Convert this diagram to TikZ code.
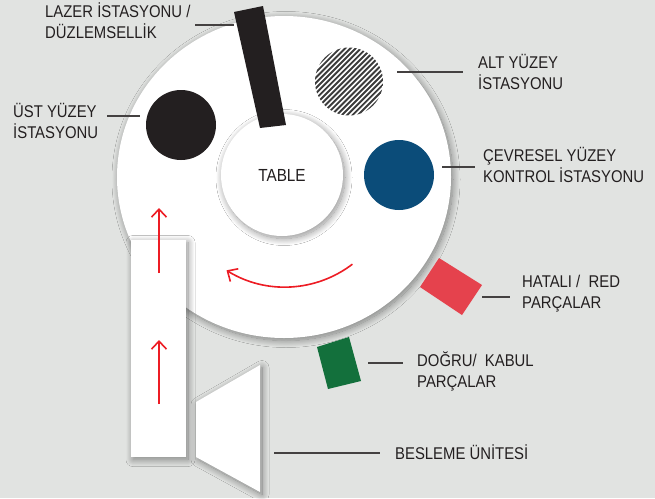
\documentclass[tikz,border=0pt]{standalone}
\usepackage{fontspec}
\setmainfont[FakeStretch=0.875]{Liberation Sans}
\usetikzlibrary{arrows.meta,shadows.blur}
\definecolor{bg}{RGB}{225,227,225}
\definecolor{ink}{RGB}{35,31,32}
\definecolor{hatchgray}{RGB}{60,60,60}
\definecolor{stationblue}{RGB}{11,76,121}
\definecolor{rejectred}{RGB}{229,66,77}
\definecolor{acceptgreen}{RGB}{19,112,60}
\definecolor{flowred}{RGB}{237,28,36}
\begin{document}
\begin{tikzpicture}[x=1pt,y=-1pt,
  lbl/.style={inner sep=0pt, anchor=base west, text=ink, font=\fontsize{17}{21}\selectfont},
  leader/.style={draw=ink!85, line width=1.1pt},
  flow/.style={draw=flowred, line width=1.6pt, -{Straight Barb[length=8pt,width=15pt]}},
  softshadow/.style={blur shadow={shadow xshift=2pt, shadow yshift=-2.5pt, shadow blur radius=7pt, shadow blur steps=20, shadow opacity=45}},
  station/.style={circle, inner sep=0pt, minimum size=70pt}
]
\useasboundingbox (0,0) rectangle (655,498);
\fill[bg] (0,0) rectangle (655,498);

% turntable
\fill[white, softshadow] (284,177) ellipse [x radius=167, y radius=161];

% stations
\node[station, minimum size=68pt, fill=white] (alt) at (349,81.5) {};
\begin{scope}
  \clip (349,81.5) circle [radius=34];
  \foreach \k in {-11,...,11}
    \draw[draw=hatchgray, line width=1.9pt] ({349+\k*2.65+40},{81.5+\k*2.65-40}) -- ({349+\k*2.65-40},{81.5+\k*2.65+40});
\end{scope}
\node[station, fill=ink] (ust) at (181,125) {};
\node[station, fill=stationblue] (cevre) at (399,175) {};

% table
\node[circle, fill=white, minimum size=122pt, inner sep=0pt, softshadow, text=ink,
  font=\fontsize{17.5}{20}\selectfont] (table) at (282,175) {TABLE};

% conveyor and feeder
\fill[white, softshadow] (131,240) rectangle (186,457);
\fill[white, softshadow] (196,402) -- (260,365) -- (260,492) -- (196,457) -- cycle;

% flow arrows
\coordinate (f1s) at (159,273); \coordinate (f1e) at (159,208);
\coordinate (f2s) at (159,404); \coordinate (f2e) at (159,340);
\draw[flow] (f1s) -- (f1e);
\draw[flow] (f2s) -- (f2e);
\draw[flow] (285,176) ++(52.6:111) arc[start angle=52.6, end angle=121.8, radius=111];

% output bins
\fill[rejectred] (420,287) -- (439,258) -- (482,285) -- (462,315) -- cycle;
\fill[acceptgreen] (317,347) -- (349,337) -- (361,381) -- (328,389) -- cycle;

% leaders
\coordinate (lzA) at (195,25);  \coordinate (lzB) at (234,25);
\coordinate (usA) at (107,116); \coordinate (usB) at (140,116);
\coordinate (alA) at (397,72);  \coordinate (alB) at (463,72);
\coordinate (cvA) at (442,167); \coordinate (cvB) at (475,167);
\coordinate (htA) at (482,297); \coordinate (htB) at (510,297);
\coordinate (dgA) at (368,363); \coordinate (dgB) at (403,363);
\coordinate (bsA) at (274,453); \coordinate (bsB) at (380,453);
\foreach \a/\b in {lzA/lzB,usA/usB,alA/alB,cvA/cvB,htA/htB,dgA/dgB,bsA/bsB}
  \draw[leader] (\a) -- (\b);

% laser bar (over the table and its leader end)
\fill[ink] (234,12) -- (263,6) -- (286,125) -- (260,128) -- cycle;

% labels
\node[lbl] (lzL) at (45,17) {\begin{tabular}[t]{@{}l@{}}LAZER İSTASYONU /\\DÜZLEMSELLİK\end{tabular}};
\node[lbl] (usL) at (13,117) {\begin{tabular}[t]{@{}l@{}}ÜST YÜZEY\\İSTASYONU\end{tabular}};
\node[lbl] (alL) at (478,68) {\begin{tabular}[t]{@{}l@{}}ALT YÜZEY\\İSTASYONU\end{tabular}};
\node[lbl] (cvL) at (483,161) {\begin{tabular}[t]{@{}l@{}}ÇEVRESEL YÜZEY\\KONTROL İSTASYONU\end{tabular}};
\node[lbl] (htL) at (522,287) {\begin{tabular}[t]{@{}l@{}}HATALI / \ RED\\PARÇALAR\end{tabular}};
\node[lbl] (dgL) at (417,366) {\begin{tabular}[t]{@{}l@{}}DOĞRU/ \ KABUL\\PARÇALAR\end{tabular}};
\node[lbl] (bsL) at (395,459) {BESLEME ÜNİTESİ};
\end{tikzpicture}
\end{document}
